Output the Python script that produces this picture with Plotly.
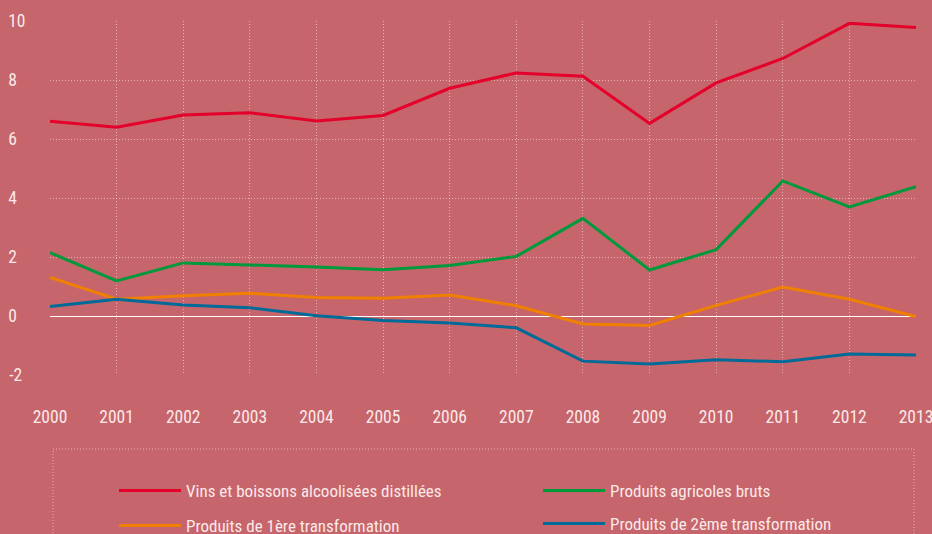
import plotly.graph_objects as go

years = list(range(2000, 2014))
vins = [6.60, 6.40, 6.81, 6.89, 6.61, 6.80, 7.72, 8.24, 8.13, 6.53, 7.90, 8.73, 9.92, 9.78]
agricoles = [2.15, 1.19, 1.80, 1.74, 1.66, 1.57, 1.71, 2.02, 3.31, 1.56, 2.25, 4.58, 3.70, 4.38]
premiere = [1.31, 0.57, 0.69, 0.77, 0.63, 0.60, 0.71, 0.35, -0.27, -0.32, 0.36, 0.98, 0.57, -0.02]
deuxieme = [0.32, 0.57, 0.37, 0.28, 0.01, -0.15, -0.24, -0.40, -1.53, -1.63, -1.48, -1.55, -1.29, -1.32]
y_ticks = [-2, 0, 2, 4, 6, 8, 10]
y_tick_labels = ["-2\u2009", "0\u2007", "2\u2007", "4\u2007", "6\u2007", "8\u2007", "10"]

names = ["Vins et boissons alcoolisées distillées", "Produits agricoles bruts",
         "Produits de 1ère transformation", "Produits de 2ème transformation"]
colors = ["#e4002b", "#009a3d", "#f08000", "#006b99"]
series = [vins, agricoles, premiere, deuxieme]
legends = ["legend", "legend2", "legend3", "legend4"]

BG = "#c6656b"
FONT = "Liberation Sans Narrow, Roboto Condensed, DejaVu Sans Condensed, sans-serif"
TXT = "#fbe9e9"
GRID = "rgba(255,225,225,0.6)"

fig = go.Figure()
for n, c, s, lg in zip(names, colors, series, legends):
    fig.add_trace(go.Scatter(x=years, y=s, mode="lines", name=n,
                             line=dict(color=c, width=3), legend=lg))

W, H = 932, 534
L, R, T, B = 50, 16, 21, 159
pw, ph = W - L - R, H - T - B

def px_x(p):
    return (p - L) / pw

def px_y(p):
    return (H - B - p) / ph

leg_common = dict(font=dict(family=FONT, size=17, color=TXT), bgcolor="rgba(0,0,0,0)",
                  itemwidth=62, xanchor="left", yanchor="middle")

fig.update_layout(
    width=W, height=H,
    margin=dict(l=L, r=R, t=T, b=B, autoexpand=False),
    paper_bgcolor=BG, plot_bgcolor=BG,
    font=dict(family=FONT, size=16, color=TXT),
    showlegend=True,
    legend=dict(x=px_x(114), y=px_y(491), **leg_common),
    legend2=dict(x=px_x(538), y=px_y(491), **leg_common),
    legend3=dict(x=px_x(114), y=px_y(526), **leg_common),
    legend4=dict(x=px_x(538), y=px_y(524), **leg_common),
    xaxis=dict(range=[2000, 2013], tickvals=years, showgrid=True, gridcolor=GRID,
               griddash="1px,2px", gridwidth=1, zeroline=False, showline=False,
               ticks="outside", ticklen=26, tickcolor="rgba(0,0,0,0)",
               ticklabeloverflow="allow",
               tickfont=dict(family=FONT, size=17.5, color=TXT)),
    yaxis=dict(range=[-2, 10], tickvals=y_ticks, ticktext=y_tick_labels,
               showgrid=True, gridcolor=GRID,
               griddash="1px,2px", gridwidth=1, zeroline=True, zerolinecolor="white",
               zerolinewidth=1, showline=False, ticks="outside", ticklen=20,
               tickcolor="rgba(0,0,0,0)",
               tickfont=dict(family=FONT, size=17.5, color=TXT)),
    shapes=[dict(type="rect", xref="paper", yref="paper",
                 x0=px_x(53), x1=px_x(914), y0=px_y(449), y1=px_y(560),
                 line=dict(color=GRID, width=1, dash="1px,2px"), layer="below")],
)

fig.write_html("out.html")
